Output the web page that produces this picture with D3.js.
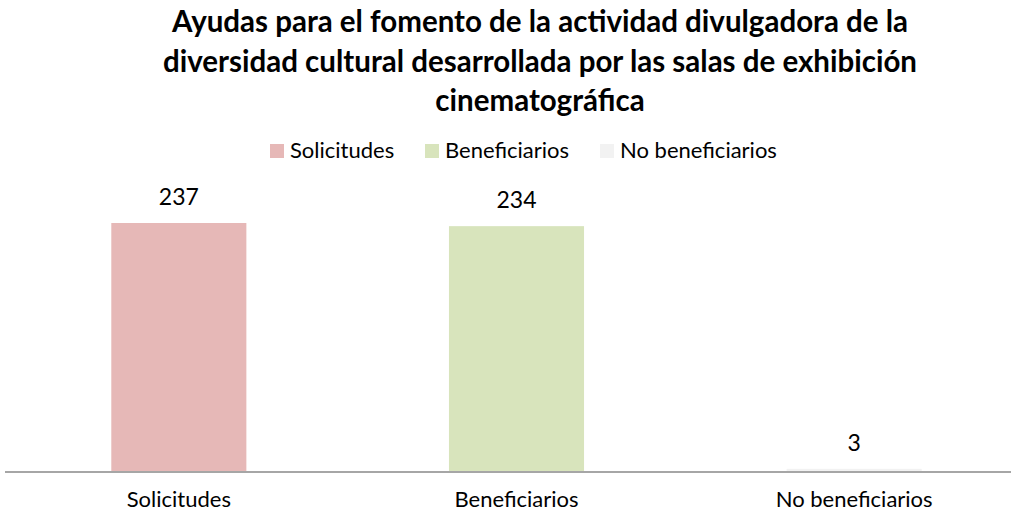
<!DOCTYPE html>
<html><head><meta charset="utf-8">
<script src="https://cdn.jsdelivr.net/npm/d3@7"></script>
<style>body{margin:0;background:#fff}svg{display:block}text{font-family:Lato,"Open Sans",sans-serif}</style>
</head><body>
<script>
const categories = ["Solicitudes", "Beneficiarios", "No beneficiarios"];
const values = [237, 234, 3];
const colors = ["#E6B8B7", "#D8E4BC", "#F2F2F2"];
const titleLines = ["Ayudas para el fomento de la actividad divulgadora de la",
  "diversidad cultural desarrollada por las salas de exhibición",
  "cinematográfica"];

const W = 1011, H = 513;
const svg = d3.select("body").append("svg").attr("width", W).attr("height", H);

svg.selectAll("text.title").data(titleLines).enter().append("text")
  .attr("x", 540).attr("y", (d, i) => 32 + i * 39.5)
  .attr("text-anchor", "middle").attr("font-size", 29.5).attr("font-weight", "bold")
  .attr("fill", "#000").text(d => d);

const x = d3.scaleBand().domain(categories).range([10, 1023]).paddingInner(0.6).paddingOuter(0.3);
const y = d3.scaleLinear().domain([0, 237]).range([472, 223]);

// legend
const legendX = [270, 425, 600];
const lg = svg.selectAll("g.leg").data(categories).enter().append("g")
  .attr("transform", (d, i) => `translate(${legendX[i]},144)`);
lg.append("rect").attr("width", 14).attr("height", 14).attr("fill", (d, i) => colors[i]);
lg.append("text").attr("x", 20).attr("y", 14).attr("font-size", 22).attr("fill", "#000").text(d => d);

svg.selectAll("rect.bar").data(values).enter().append("rect")
  .attr("x", (d, i) => x(categories[i]))
  .attr("width", x.bandwidth())
  .attr("y", d => y(d))
  .attr("height", d => y(0) - y(d))
  .attr("fill", (d, i) => colors[i]);

svg.selectAll("text.val").data(values).enter().append("text")
  .attr("x", (d, i) => x(categories[i]) + x.bandwidth() / 2)
  .attr("y", d => y(d) - 18)
  .attr("text-anchor", "middle").attr("font-size", 23).attr("fill", "#000").text(d => d);

const axis = d3.axisBottom(x).tickSize(0).tickPadding(19);
const ag = svg.append("g").attr("transform", `translate(0,${y(0)})`).call(axis);
ag.select(".domain").attr("stroke", "#A6A6A6").attr("stroke-width", 2).attr("d", "M5,0H1011");
ag.selectAll("text").attr("font-size", 22).attr("fill", "#000").attr("font-family", "Lato,'Open Sans',sans-serif");
</script>
</body></html>
